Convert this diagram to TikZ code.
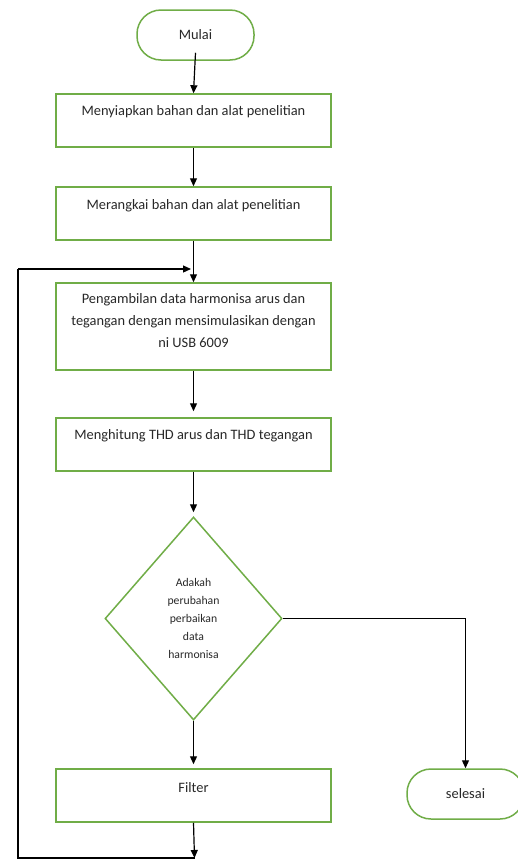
\documentclass[tikz,border=0pt]{standalone}
\usepackage{fontspec}
\setmainfont{Carlito}
\usetikzlibrary{arrows.meta,shapes.geometric}
\definecolor{boxgreen}{RGB}{112,173,71}
\definecolor{txt}{RGB}{40,40,40}
\tikzset{
  base/.style={draw=boxgreen, line width=1.5pt, text=txt},
  procbox/.style={base, rectangle, minimum width=275pt, inner sep=0pt},
  termbox/.style={base, rectangle, rounded corners=24pt, minimum width=117pt, minimum height=50pt, inner sep=0pt, font=\fontsize{14.4}{22}\selectfont},
  decbox/.style={base, diamond, minimum width=177pt, minimum height=203pt, inner sep=0pt, align=center, font=\fontsize{11.7}{18}\selectfont},
  boxtext/.style={anchor=center, text=txt, align=center, font=\fontsize{14.4}{22}\selectfont},
  flow/.style={draw=black, line width=1.2pt, -{Triangle[length=8pt,width=7pt]}},
  plain/.style={draw=black, line width=1.2pt}
}
\begin{document}
\begin{tikzpicture}[x=1pt,y=-1pt]
\useasboundingbox[fill=white] (0,0) rectangle (518,860);

\node[termbox] (mulai) at (195.5,35) {Mulai};
\node[procbox, minimum height=53pt,
  label={[boxtext, name=t1, yshift=-18pt]north:Menyiapkan bahan dan alat penelitian}] (b1) at (193.5,120.5) {};
\node[procbox, minimum height=53pt,
  label={[boxtext, name=t2, yshift=-19pt]north:Merangkai bahan dan alat penelitian}] (b2) at (193.5,213.5) {};
\node[procbox, minimum height=87pt,
  label={[boxtext, name=t3, yshift=-38pt]north:Pengambilan data harmonisa arus dan\\tegangan dengan mensimulasikan dengan\\ni USB 6009}] (b3) at (193.5,326.5) {};
\node[procbox, minimum height=53pt,
  label={[boxtext, name=t4, yshift=-18.5pt]north:Menghitung THD arus dan THD tegangan}] (b4) at (193.5,444.5) {};
\node[decbox] (d) at (193.5,618.5) {Adakah\\perubahan\\perbaikan\\data\\harmonisa};
\node[procbox, minimum height=53pt,
  label={[boxtext, name=t5, yshift=-19pt]north:Filter}] (f) at (193.5,795.5) {};
\node[termbox] (s) at (465.5,794) {selesai};

\coordinate (bot) at (194.5,858);
\coordinate (lb) at (18,858);
\coordinate (lt) at (18,269);
\coordinate (join) at (191,269);

\draw[flow] ([yshift=8pt]mulai.south) -- (b1.north);
\draw[flow] (b1.south) -- (b2.north);
\draw[flow] (b2.south) -- (b3.north);
\draw[flow, shorten >=6pt] (b3.south) -- (b4.north);
\draw[flow, shorten >=4pt] (b4.south) -- (d.north);
\draw[flow, shorten >=4pt] (d.south) -- (f.north);
\draw[flow] (d.east) -| (s.north);
\draw[flow] (f.south) -- (bot);
\draw[plain] (bot) -- (lb) -- (lt);
\draw[flow] (lt) -- (join);
\end{tikzpicture}
\end{document}
